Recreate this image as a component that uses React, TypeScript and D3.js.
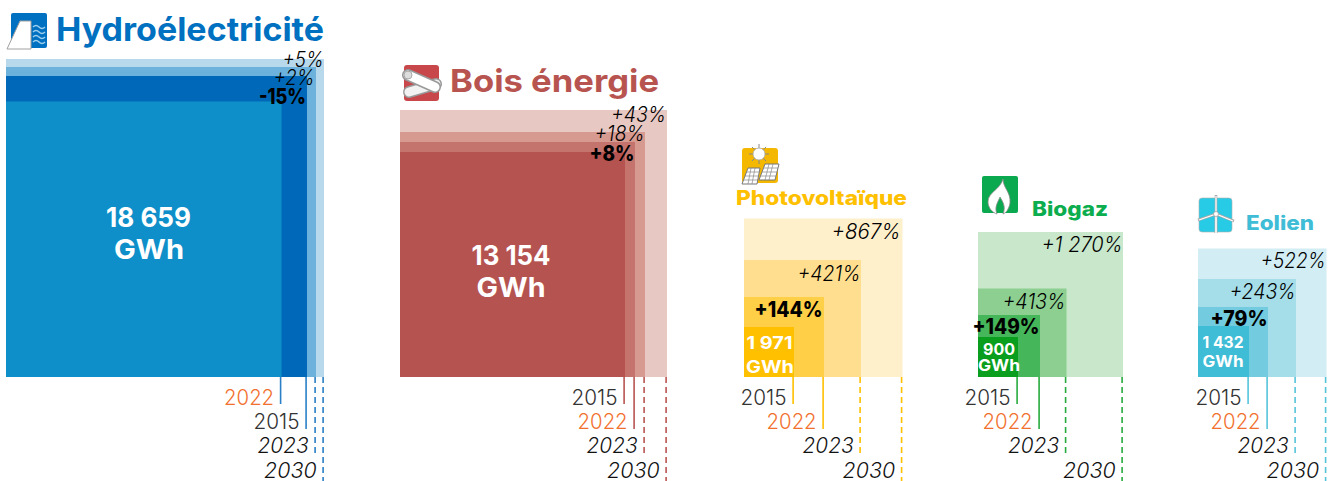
import React from "react";
import * as d3 from "d3";

// ---- Data (GWh, read from the areas of the nested squares) ----
const years = ["2015", "2022", "2023", "2030"];
const hydroValues = [22270, 18659, 23625, 24860];
const boisValues = [13154, 14349, 15596, 18523];
const pvValues = [1971, 5046, 10793, 19805];
const biogazValues = [900, 2162, 4406, 11827];
const eolienValues = [1432, 2698, 5288, 9091];
const panelNames = ["Hydroélectricité", "Bois énergie", "Photovoltaïque", "Biogaz", "Eolien"];

const FONT = "Inter, 'Open Sans', sans-serif";
const BOTTOM = 377;
const rowBaselines = [405, 429, 453, 478];
const rowEnds = [404, 429, 453, 481];

type Lab = { t: string; r: number; y: number; w: number; bold?: boolean; s?: number };
type Panel = {
  name: string; values: number[]; left: number; side: number; title: string;
  colors: string[]; // by year
  line: string;
  titleBox: { x: number; y: number; w: number; s: number; weight: number };
  pct: Lab[]; base: { t: string; x: number; y: number; w: number; s: number }[];
};

const panels: Panel[] = [
  {
    name: panelNames[0], values: hydroValues, left: 6, side: 318, title: "#0070c0",
    colors: ["#0068b8", "#0e8fc9", "#6db2dc", "#b8d8ec"], line: "#2a7fc6",
    titleBox: { x: 56, y: 41, w: 268, s: 32.5, weight: 700 },
    pct: [
      { t: "+5%", r: 323.5, y: 67, w: 41 },
      { t: "+2%", r: 314.5, y: 85, w: 41 },
      { t: "-15%", r: 306, y: 104, w: 47, bold: true },
    ],
    base: [
      { t: "18 659", x: 148.5, y: 227, w: 85, s: 27 },
      { t: "GWh", x: 149, y: 259, w: 70, s: 27 },
    ],
  },
  {
    name: panelNames[1], values: boisValues, left: 400, side: 267, title: "#b85450",
    colors: ["#b55350", "#c5746d", "#d69a91", "#e8c8c3"], line: "#b85450",
    titleBox: { x: 450, y: 92, w: 209, s: 31.5, weight: 700 },
    pct: [
      { t: "+43%", r: 666, y: 122, w: 55 },
      { t: "+18%", r: 644.5, y: 141, w: 50 },
      { t: "+8%", r: 634.5, y: 161, w: 45, bold: true },
    ],
    base: [
      { t: "13 154", x: 511, y: 265, w: 79, s: 27 },
      { t: "GWh", x: 511, y: 297, w: 69, s: 27 },
    ],
  },
  {
    name: panelNames[2], values: pvValues, left: 744, side: 158.5, title: "#ffc000",
    colors: ["#ffc000", "#ffcf47", "#ffdf8f", "#fff0cc"], line: "#ffc000",
    titleBox: { x: 736, y: 205, w: 171, s: 20, weight: 800 },
    pct: [
      { t: "+867%", r: 900.5, y: 239, w: 69 },
      { t: "+421%", r: 860.5, y: 281, w: 63 },
      { t: "+144%", r: 822.5, y: 317, w: 68, bold: true },
    ],
    base: [
      { t: "1 971", x: 769.5, y: 349, w: 46, s: 17.5 },
      { t: "GWh", x: 770, y: 373, w: 48, s: 17.5 },
    ],
  },
  {
    name: panelNames[3], values: biogazValues, left: 978, side: 145, title: "#0cad4e",
    colors: ["#0a9e1e", "#46b65a", "#8ccf90", "#c8e7cb"], line: "#27ab3e",
    titleBox: { x: 1032, y: 216, w: 76, s: 20, weight: 800 },
    pct: [
      { t: "+1 270%", r: 1122.5, y: 252, w: 81 },
      { t: "+413%", r: 1065.5, y: 309, w: 63 },
      { t: "+149%", r: 1039.5, y: 334, w: 67, bold: true },
    ],
    base: [
      { t: "900", x: 999, y: 355, w: 32, s: 16 },
      { t: "GWh", x: 999, y: 371, w: 42, s: 16 },
    ],
  },
  {
    name: panelNames[4], values: eolienValues, left: 1198, side: 128.5, title: "#3fbcd6",
    colors: ["#3fbcd6", "#72cbdf", "#a5dde9", "#d3edf4"], line: "#55c3da",
    titleBox: { x: 1246, y: 230, w: 68, s: 20, weight: 800 },
    pct: [
      { t: "+522%", r: 1325.5, y: 268, w: 65 },
      { t: "+243%", r: 1295.5, y: 299, w: 66 },
      { t: "+79%", r: 1267.5, y: 326, w: 57, bold: true },
    ],
    base: [
      { t: "1 432", x: 1223, y: 348, w: 41, s: 15.5 },
      { t: "GWh", x: 1223, y: 367, w: 41, s: 15.5 },
    ],
  },
];

const yearWidth: Record<string, number> = { "2015": 46, "2022": 50, "2023": 51, "2030": 52.5 };

function PanelView({ p }: { p: Panel }) {
  const side = d3.scaleSqrt().domain([0, d3.max(p.values) as number]).range([0, p.side]);
  const items = years.map((year, i) => ({ year, value: p.values[i], color: p.colors[i], s: side(p.values[i]) as number }));
  const bySize = d3.sort(items, (d) => -d.s);
  const solid = d3.sort(items.filter((d) => d.year === "2015" || d.year === "2022"), (d) => d.s);
  const rowOf = (y: string) => (y === "2023" ? 2 : y === "2030" ? 3 : solid.findIndex((d) => d.year === y));
  const t = p.titleBox;
  return (
    <g>
      {bySize.map((d) => (
        <rect key={d.year} x={p.left} y={BOTTOM - d.s} width={d.s} height={d.s} fill={d.color} />
      ))}
      {items.map((d) => {
        const row = rowOf(d.year);
        const x = p.left + d.s - 0.9;
        const future = d.year === "2023" || d.year === "2030";
        const col = d.year === "2022" ? "#f2702e" : d.year === "2015" ? "#333333" : "#111111";
        return (
          <g key={d.year}>
            <line x1={x} x2={x} y1={BOTTOM} y2={rowEnds[row]} stroke={p.line} strokeWidth={1.6}
              strokeDasharray={future ? "6 4" : undefined} />
            <text x={x - 6.5 - yearWidth[d.year]} y={rowBaselines[row]} fontFamily={FONT} fontSize={21}
              fontWeight={300} fontStyle={future ? "italic" : "normal"} fill={col}
              textLength={yearWidth[d.year]} lengthAdjust="spacingAndGlyphs">{d.year}</text>
          </g>
        );
      })}
      <text x={t.x} y={t.y} fontFamily={FONT} fontSize={t.s} fontWeight={t.weight} fill={p.title}
        textLength={t.w} lengthAdjust="spacingAndGlyphs">{p.name}</text>
      {p.pct.map((l) => (
        <text key={l.t} x={l.r - l.w} y={l.y} fontFamily={FONT} fontSize={21}
          fontWeight={l.bold ? 800 : 300} fontStyle={l.bold ? "normal" : "italic"} fill="#000"
          textLength={l.w} lengthAdjust="spacingAndGlyphs">{l.t}</text>
      ))}
      {p.base.map((l) => (
        <text key={l.t} x={l.x - l.w / 2} y={l.y} fontFamily={FONT} fontSize={l.s} fontWeight={700} fill="#fff"
          textLength={l.w} lengthAdjust="spacingAndGlyphs">{l.t}</text>
      ))}
    </g>
  );
}

function Icons() {
  return (
    <g>
      {/* hydro */}
      <rect x={11} y={13} width={36} height={35} rx={2} fill="#0070c0" />
      <path d="M7 49 L20 21 L31 21 L31 49 Z" fill="#fff" stroke="#a0a0a0" strokeWidth={1} />
      {[27, 32, 37, 42].map((y) => (
        <path key={y} d={`M33 ${y} q3 -3 6 0 t6 0`} fill="none" stroke="#9fd0ee" strokeWidth={1.5} />
      ))}
      {/* wood */}
      <rect x={404} y={65} width={35} height={36} rx={3} fill="#c8474a" />
      <line x1={409} y1={92} x2={436} y2={84} stroke="#999" strokeWidth={12} strokeLinecap="round" />
      <line x1={409} y1={92} x2={436} y2={84} stroke="#f2f2f2" strokeWidth={9} strokeLinecap="round" />
      <line x1={408} y1={75} x2={435} y2={87} stroke="#999" strokeWidth={12} strokeLinecap="round" />
      <line x1={408} y1={75} x2={435} y2={87} stroke="#fff" strokeWidth={9} strokeLinecap="round" />
      <circle cx={408} cy={75} r={4} fill="#ddd" stroke="#999" strokeWidth={0.8} />
      {/* photovoltaic */}
      <rect x={742} y={148} width={36} height={35} rx={3} fill="#f5b800" />
      {d3.range(8).map((i) => {
        const a = (i * Math.PI) / 4;
        return <line key={i} x1={759} y1={154} x2={759 + 10 * Math.cos(a)} y2={154 + 10 * Math.sin(a)} stroke="#888" strokeWidth={1} />;
      })}
      <circle cx={759} cy={154} r={6} fill="#fff" stroke="#aaa" strokeWidth={0.8} />
      <path d="M742 184 L748 168 L760 168 L757 184 Z" fill="#fff" stroke="#777" strokeWidth={1} />
      <path d="M759 180 L765 164 L779 164 L775 180 Z" fill="#fff" stroke="#777" strokeWidth={1} />
      <path d="M747 172 H759 M745 176 H758 M744 180 H758 M751 168 L748 184 M755 168 L752 184" stroke="#888" strokeWidth={0.7} fill="none" />
      <path d="M764 168 H778 M762 172 H777 M761 176 H776 M769 164 L765 180 M773 164 L769 180" stroke="#888" strokeWidth={0.7} fill="none" />
      {/* biogas */}
      <rect x={982} y={176} width={36} height={37} rx={2} fill="#0aa84f" />
      <path d="M1003 179 C1003 188 1011 192 1010 203 C1009 209 1006 213 1003 214 C1006 207 1003 202 1000 197 C998 202 994 207 997 214 C993 213 988 208 988 202 C988 192 1000 190 1003 179 Z"
        fill="#fff" stroke="#8a8a8a" strokeWidth={0.8} />
      {/* wind */}
      <rect x={1199} y={198} width={33} height={34} rx={3} fill="#27cbe6" stroke="#b0b0b0" strokeWidth={0.6} />
      <line x1={1216} y1={214} x2={1216} y2={233} stroke="#aaa" strokeWidth={3} />
      <line x1={1216} y1={214} x2={1216} y2={195} stroke="#aaa" strokeWidth={2.6} />
      <line x1={1216} y1={214} x2={1198} y2={220} stroke="#aaa" strokeWidth={2.6} />
      <line x1={1216} y1={214} x2={1234} y2={221} stroke="#aaa" strokeWidth={2.6} />
      <line x1={1216} y1={214} x2={1216} y2={233} stroke="#fff" strokeWidth={1.6} />
      <line x1={1216} y1={214} x2={1216} y2={196} stroke="#fff" strokeWidth={1.2} />
      <line x1={1216} y1={214} x2={1199} y2={220} stroke="#fff" strokeWidth={1.2} />
      <line x1={1216} y1={214} x2={1233} y2={221} stroke="#fff" strokeWidth={1.2} />
      <circle cx={1216} cy={214} r={2.5} fill="#fff" stroke="#999" strokeWidth={0.7} />
    </g>
  );
}

export default function App() {
  return (
    <svg width={1338} height={481} viewBox="0 0 1338 481"
      style={{ position: "absolute", left: 0, top: 0, display: "block", background: "#fff" }}>
      {panels.map((p) => <PanelView key={p.name} p={p} />)}
      <Icons />
    </svg>
  );
}
